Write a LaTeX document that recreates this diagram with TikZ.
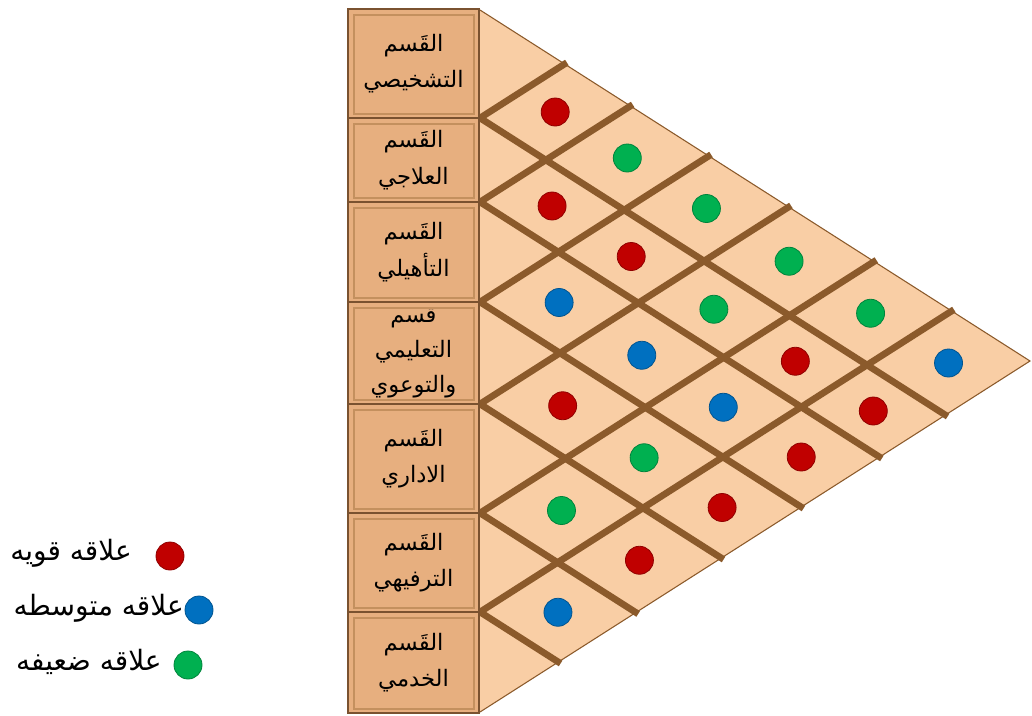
\documentclass[tikz,border=0pt]{standalone}
\usepackage{fontspec}
\usetikzlibrary{calc}
\newfontfamily\arabicfont[Script=Arabic]{DejaVu Sans}
\TeXXeTstate=1
\newcommand{\rtl}[1]{\beginR #1\endR}

\definecolor{roofpeach}{HTML}{F9CEA5}
\definecolor{boxtan}{HTML}{E7AF7F}
\definecolor{boxedge}{HTML}{7A5230}
\definecolor{frameline}{HTML}{C4905E}
\definecolor{ribbrown}{HTML}{8B5A2B}
\definecolor{strongred}{HTML}{C00000}
\definecolor{midblue}{HTML}{0070C0}
\definecolor{weakgreen}{HTML}{00B050}

\begin{document}
\begin{tikzpicture}[x=0.75pt, y=-0.75pt,
	dept/.style={draw=boxedge, line width=1.5pt, fill=boxtan, minimum width=98.25pt, inner sep=0pt,
		align=center, font=\arabicfont\fontsize{17}{27.5}\selectfont},
	inner frame/.style={frameline, line width=0.8pt},
	rib/.style={ribbrown, line width=5pt, shorten >=-2pt},
	dot/.style={circle, minimum size=21pt, inner sep=0pt, draw=#1!75!black, line width=0.6pt, fill=#1},
	key/.style={anchor=east, inner sep=0pt, font=\arabicfont\fontsize{21}{24}\selectfont}]
	\useasboundingbox (0,0) rectangle (1032,715);
	\pgfmathsetmacro\slope{351/550}
	\def\cen{{64,160,252,353,458.5,562.5,662}}
	
	% 1. roof triangle
	\coordinate (top) at (480,10);
	\coordinate (apex) at (1030,361);
	\coordinate (bot) at (480,712);
	\fill[roofpeach] (top) -- (apex) -- (bot) -- cycle;
	
	% 2. ribs from each boundary on the left edge
	\foreach \k/\b in {1/118,2/202,3/302,4/404,5/513,6/612}{
		\pgfmathsetmacro\tu{(\b-10)/(2*\slope)}
		\pgfmathsetmacro\td{(712-\b)/(2*\slope)}
		\coordinate (e\k) at (480,\b);
		\coordinate (up\k) at ({480+\tu},{(\b+10)/2});
		\coordinate (dn\k) at ({480+\td},{(\b+712)/2});
		\draw[rib] (e\k) -- (up\k);
		\draw[rib] (e\k) -- (dn\k);
	}
	\draw[ribbrown, line width=0.8pt] (top) -- (apex) -- (bot);
	
	% 3. relation dots
	\foreach \i/\j/\c in {1/2/strongred, 2/3/strongred, 3/4/midblue, 4/5/strongred, 5/6/weakgreen, 6/7/midblue,
		1/3/weakgreen, 2/4/strongred, 3/5/midblue, 4/6/weakgreen, 5/7/strongred,
		1/4/weakgreen, 2/5/weakgreen, 3/6/midblue, 4/7/strongred,
		1/5/weakgreen, 2/6/strongred, 3/7/strongred,
		1/6/weakgreen, 2/7/strongred,
		1/7/midblue}{
		\pgfmathsetmacro\ci{\cen[\i-1]}
		\pgfmathsetmacro\cj{\cen[\j-1]}
		\node[dot=\c] (m\i\j) at ({480+(\cj-\ci)/(2*\slope)},{(\ci+\cj)/2}) {};
	}
	
	% 4. department boxes
	\node[dept, minimum height=81.75pt] (d1) at (413.5,63.5) {\rtl{القَسم}\\\rtl{التشخيصي}};
	\node[dept, minimum height=63pt] (d2) at (413.5,160) {\rtl{القَسم}\\\rtl{العلاجي}};
	\node[dept, minimum height=75pt] (d3) at (413.5,252) {\rtl{القَسم}\\\rtl{التأهيلي}};
	\node[dept, minimum height=76.5pt, font=\arabicfont\fontsize{17}{26}\selectfont] (d4) at (413.5,353) {\rtl{قسم}\\\rtl{التعليمي}\\\rtl{والتوعوي}};
	\node[dept, minimum height=81.75pt] (d5) at (413.5,458.5) {\rtl{القَسم}\\\rtl{الاداري}};
	\node[dept, minimum height=74.25pt] (d6) at (413.5,562.5) {\rtl{القَسم}\\\rtl{الترفيهي}};
	\node[dept, minimum height=75.75pt] (d7) at (413.5,662.5) {\rtl{القَسم}\\\rtl{الخدمي}};
	\foreach \n in {d1,d2,d3,d4,d5,d6,d7}
		\draw[inner frame] ($(\n.north west)+(7,7)$) rectangle ($(\n.south east)+(-6,-5)$);
	
	% 5. legend
	\node[dot=strongred] (kred) at (170,556) {};
	\node[key] (tred) at (132,553) {\rtl{علاقه قويه}};
	\node[dot=midblue] (kblue) at (199,610) {};
	\node[key] (tblue) at (184,608) {\rtl{علاقه متوسطه}};
	\node[dot=weakgreen] (kgreen) at (188,665) {};
	\node[key] (tgreen) at (162,662) {\rtl{علاقه ضعيفه}};
\end{tikzpicture}
\end{document}
